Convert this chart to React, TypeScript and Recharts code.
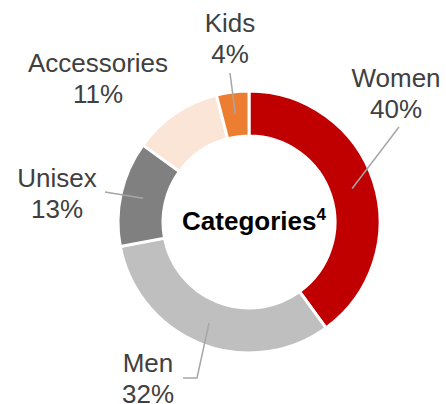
import React from "react";
import { PieChart, Pie, Cell, Label } from "recharts";

const categories = ["Women", "Men", "Unisex", "Accessories", "Kids"];
const shares = [40, 32, 13, 11, 4];
const colors = ["#C00000", "#BFBFBF", "#808080", "#FBE5D6", "#ED7D31"];
const centerTitle = "Categories";
const centerFootnote = "4";

const data = categories.map((name, i) => ({ name, value: shares[i] }));

// Label layout relative to pie centre: text anchor (x, first baseline) and leader elbow points
const labelLayout: Record<string, { tx: number; ty: number; line: [number, number][] }> = {
  Women: { tx: 147, ty: -135, line: [[150, -95]] },
  Men: { tx: -101, ty: 150, line: [[-52, 156], [-66, 156]] },
  Unisex: { tx: -192, ty: -35, line: [[-144, -30]] },
  Accessories: { tx: -151, ty: -150, line: [] },
  Kids: { tx: -19, ty: -190, line: [[-19, -149]] },
};

const FONT = "'Liberation Sans', Arial, sans-serif";
const RADIAN = Math.PI / 180;

const renderLabel = (props: any) => {
  const { cx, cy, midAngle, innerRadius, outerRadius, name, value } = props;
  const layout = labelLayout[name];
  if (!layout) return null;
  const r = (innerRadius + outerRadius) / 2;
  const sx = cx + r * Math.cos(-midAngle * RADIAN);
  const sy = cy + r * Math.sin(-midAngle * RADIAN);
  const pts = [[sx, sy], ...layout.line.map(([dx, dy]) => [cx + dx, cy + dy])];
  return (
    <g>
      {layout.line.length > 0 && (
        <polyline
          points={pts.map((p) => p.join(",")).join(" ")}
          fill="none"
          stroke="#A6A6A6"
          strokeWidth={1.5}
        />
      )}
      <text
        x={cx + layout.tx}
        y={cy + layout.ty}
        textAnchor="middle"
        fill="#404040"
        fontSize={26}
        fontFamily={FONT}
      >
        <tspan x={cx + layout.tx} dy={0}>{name}</tspan>
        <tspan x={cx + layout.tx} dy={31}>{`${value}%`}</tspan>
      </text>
    </g>
  );
};

const renderCenter = (props: any) => {
  const vb = props.viewBox || {};
  const cx = vb.cx ?? 249;
  const cy = vb.cy ?? 222;
  return (
    <text
      x={cx + 5}
      y={cy + 8}
      textAnchor="middle"
      fill="#000000"
      fontFamily={FONT}
      fontWeight="bold"
      fontSize={26}
    >
      {centerTitle}
      <tspan fontSize={17} dy={-10}>{centerFootnote}</tspan>
    </text>
  );
};

export default function App() {
  return (
    <div style={{ position: "absolute", left: 0, top: 0, width: 446, height: 404, background: "#fff" }}>
      <PieChart width={446} height={404} margin={{ top: 0, right: 0, bottom: 0, left: 0 }}>
        <Pie
          data={data}
          dataKey="value"
          nameKey="name"
          cx={249}
          cy={222}
          innerRadius={86}
          outerRadius={131}
          startAngle={90}
          endAngle={-270}
          stroke="#FFFFFF"
          strokeWidth={3}
          label={renderLabel}
          labelLine={false}
          isAnimationActive={false}
        >
          {data.map((d, i) => (
            <Cell key={d.name} fill={colors[i]} />
          ))}
          <Label position="center" content={renderCenter} />
        </Pie>
      </PieChart>
    </div>
  );
}
